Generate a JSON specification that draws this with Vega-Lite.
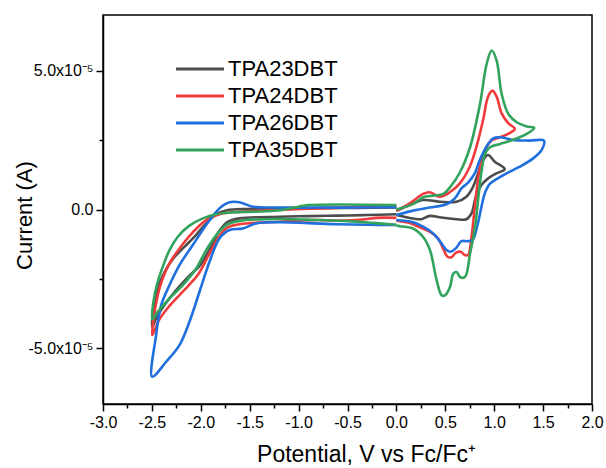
{
  "$schema": "https://vega.github.io/schema/vega-lite/v6.json",
  "width": 489,
  "height": 389,
  "autosize": {"type": "none"},
  "padding": {"left": 103, "top": 15, "right": 14, "bottom": 64},
  "background": "white",
  "config": {
    "view": {"stroke": "black", "strokeWidth": 1.5},
    "font": "Liberation Sans"
  },
  "data": {"values": [
    {"s":"TPA23DBT","g":"ox","k":1,"v":0.0,"i":-0.05e-5},
    {"s":"TPA23DBT","g":"ox","k":2,"v":0.136,"i":0.16e-5},
    {"s":"TPA23DBT","g":"ox","k":3,"v":0.273,"i":0.34e-5},
    {"s":"TPA23DBT","g":"ox","k":4,"v":0.443,"i":0.28e-5},
    {"s":"TPA23DBT","g":"ox","k":5,"v":0.614,"i":0.28e-5},
    {"s":"TPA23DBT","g":"ox","k":6,"v":0.716,"i":0.46e-5},
    {"s":"TPA23DBT","g":"ox","k":7,"v":0.784,"i":0.82e-5},
    {"s":"TPA23DBT","g":"ox","k":8,"v":0.835,"i":1.30e-5},
    {"s":"TPA23DBT","g":"ox","k":9,"v":0.887,"i":1.78e-5},
    {"s":"TPA23DBT","g":"ox","k":10,"v":0.938,"i":1.96e-5},
    {"s":"TPA23DBT","g":"ox","k":11,"v":1.006,"i":1.72e-5},
    {"s":"TPA23DBT","g":"ox","k":12,"v":1.108,"i":1.45e-5},
    {"s":"TPA23DBT","g":"ox","k":13,"v":1.023,"i":1.30e-5},
    {"s":"TPA23DBT","g":"ox","k":14,"v":0.938,"i":1.12e-5},
    {"s":"TPA23DBT","g":"ox","k":15,"v":0.870,"i":0.88e-5},
    {"s":"TPA23DBT","g":"ox","k":16,"v":0.812,"i":0.46e-5},
    {"s":"TPA23DBT","g":"ox","k":17,"v":0.768,"i":-0.14e-5},
    {"s":"TPA23DBT","g":"ox","k":18,"v":0.716,"i":-0.35e-5},
    {"s":"TPA23DBT","g":"ox","k":19,"v":0.614,"i":-0.35e-5},
    {"s":"TPA23DBT","g":"ox","k":20,"v":0.443,"i":-0.28e-5},
    {"s":"TPA23DBT","g":"ox","k":21,"v":0.341,"i":-0.23e-5},
    {"s":"TPA23DBT","g":"ox","k":22,"v":0.256,"i":-0.35e-5},
    {"s":"TPA23DBT","g":"ox","k":23,"v":0.102,"i":-0.28e-5},
    {"s":"TPA23DBT","g":"ox","k":24,"v":0.0,"i":-0.20e-5},
    {"s":"TPA23DBT","g":"rd","k":1,"v":0.0,"i":-0.17e-5},
    {"s":"TPA23DBT","g":"rd","k":2,"v":-0.3,"i":-0.20e-5},
    {"s":"TPA23DBT","g":"rd","k":3,"v":-0.6,"i":-0.22e-5},
    {"s":"TPA23DBT","g":"rd","k":4,"v":-0.9,"i":-0.24e-5},
    {"s":"TPA23DBT","g":"rd","k":5,"v":-1.194,"i":-0.26e-5},
    {"s":"TPA23DBT","g":"rd","k":6,"v":-1.604,"i":-0.32e-5},
    {"s":"TPA23DBT","g":"rd","k":7,"v":-1.733,"i":-0.46e-5},
    {"s":"TPA23DBT","g":"rd","k":8,"v":-1.816,"i":-0.80e-5},
    {"s":"TPA23DBT","g":"rd","k":9,"v":-1.904,"i":-1.40e-5},
    {"s":"TPA23DBT","g":"rd","k":10,"v":-2.006,"i":-2.00e-5},
    {"s":"TPA23DBT","g":"rd","k":11,"v":-2.116,"i":-2.38e-5},
    {"s":"TPA23DBT","g":"rd","k":12,"v":-2.252,"i":-2.90e-5},
    {"s":"TPA23DBT","g":"rd","k":13,"v":-2.372,"i":-3.44e-5},
    {"s":"TPA23DBT","g":"rd","k":14,"v":-2.457,"i":-3.92e-5},
    {"s":"TPA23DBT","g":"rd","k":15,"v":-2.497,"i":-4.22e-5},
    {"s":"TPA23DBT","g":"rd","k":16,"v":-2.484,"i":-3.56e-5},
    {"s":"TPA23DBT","g":"rd","k":17,"v":-2.440,"i":-2.84e-5},
    {"s":"TPA23DBT","g":"rd","k":18,"v":-2.372,"i":-2.26e-5},
    {"s":"TPA23DBT","g":"rd","k":19,"v":-2.286,"i":-1.78e-5},
    {"s":"TPA23DBT","g":"rd","k":20,"v":-2.184,"i":-1.40e-5},
    {"s":"TPA23DBT","g":"rd","k":21,"v":-2.064,"i":-0.98e-5},
    {"s":"TPA23DBT","g":"rd","k":22,"v":-1.945,"i":-0.50e-5},
    {"s":"TPA23DBT","g":"rd","k":23,"v":-1.842,"i":-0.17e-5},
    {"s":"TPA23DBT","g":"rd","k":24,"v":-1.733,"i":-0.03e-5},
    {"s":"TPA23DBT","g":"rd","k":25,"v":-1.535,"i":0.02e-5},
    {"s":"TPA23DBT","g":"rd","k":26,"v":-1.194,"i":0.02e-5},
    {"s":"TPA23DBT","g":"rd","k":27,"v":-0.8,"i":0.05e-5},
    {"s":"TPA23DBT","g":"rd","k":28,"v":-0.4,"i":0.06e-5},
    {"s":"TPA23DBT","g":"rd","k":29,"v":0.0,"i":0.07e-5},

    {"s":"TPA24DBT","g":"ox","k":1,"v":0.0,"i":-0.04e-5},
    {"s":"TPA24DBT","g":"ox","k":2,"v":0.136,"i":0.22e-5},
    {"s":"TPA24DBT","g":"ox","k":3,"v":0.273,"i":0.56e-5},
    {"s":"TPA24DBT","g":"ox","k":4,"v":0.341,"i":0.62e-5},
    {"s":"TPA24DBT","g":"ox","k":5,"v":0.443,"i":0.46e-5},
    {"s":"TPA24DBT","g":"ox","k":6,"v":0.546,"i":0.62e-5},
    {"s":"TPA24DBT","g":"ox","k":7,"v":0.648,"i":0.94e-5},
    {"s":"TPA24DBT","g":"ox","k":8,"v":0.750,"i":1.54e-5},
    {"s":"TPA24DBT","g":"ox","k":9,"v":0.819,"i":2.26e-5},
    {"s":"TPA24DBT","g":"ox","k":10,"v":0.887,"i":3.23e-5},
    {"s":"TPA24DBT","g":"ox","k":11,"v":0.938,"i":4.07e-5},
    {"s":"TPA24DBT","g":"ox","k":12,"v":0.982,"i":4.28e-5},
    {"s":"TPA24DBT","g":"ox","k":13,"v":1.024,"i":4.07e-5},
    {"s":"TPA24DBT","g":"ox","k":14,"v":1.075,"i":3.47e-5},
    {"s":"TPA24DBT","g":"ox","k":15,"v":1.143,"i":3.11e-5},
    {"s":"TPA24DBT","g":"ox","k":16,"v":1.211,"i":2.90e-5},
    {"s":"TPA24DBT","g":"ox","k":17,"v":1.143,"i":2.72e-5},
    {"s":"TPA24DBT","g":"ox","k":18,"v":1.057,"i":2.60e-5},
    {"s":"TPA24DBT","g":"ox","k":19,"v":0.972,"i":2.48e-5},
    {"s":"TPA24DBT","g":"ox","k":20,"v":0.914,"i":2.20e-5},
    {"s":"TPA24DBT","g":"ox","k":21,"v":0.863,"i":1.66e-5},
    {"s":"TPA24DBT","g":"ox","k":22,"v":0.825,"i":0.82e-5},
    {"s":"TPA24DBT","g":"ox","k":23,"v":0.795,"i":-0.14e-5},
    {"s":"TPA24DBT","g":"ox","k":24,"v":0.768,"i":-0.98e-5},
    {"s":"TPA24DBT","g":"ox","k":25,"v":0.733,"i":-1.64e-5},
    {"s":"TPA24DBT","g":"ox","k":26,"v":0.699,"i":-1.64e-5},
    {"s":"TPA24DBT","g":"ox","k":27,"v":0.658,"i":-1.52e-5},
    {"s":"TPA24DBT","g":"ox","k":28,"v":0.607,"i":-1.56e-5},
    {"s":"TPA24DBT","g":"ox","k":29,"v":0.563,"i":-1.72e-5},
    {"s":"TPA24DBT","g":"ox","k":30,"v":0.522,"i":-1.70e-5},
    {"s":"TPA24DBT","g":"ox","k":31,"v":0.477,"i":-1.40e-5},
    {"s":"TPA24DBT","g":"ox","k":32,"v":0.426,"i":-1.04e-5},
    {"s":"TPA24DBT","g":"ox","k":33,"v":0.341,"i":-0.80e-5},
    {"s":"TPA24DBT","g":"ox","k":34,"v":0.239,"i":-0.64e-5},
    {"s":"TPA24DBT","g":"ox","k":35,"v":0.119,"i":-0.47e-5},
    {"s":"TPA24DBT","g":"ox","k":36,"v":0.0,"i":-0.40e-5},
    {"s":"TPA24DBT","g":"rd","k":1,"v":0.0,"i":-0.30e-5},
    {"s":"TPA24DBT","g":"rd","k":2,"v":-0.2,"i":-0.30e-5},
    {"s":"TPA24DBT","g":"rd","k":3,"v":-0.35,"i":-0.36e-5},
    {"s":"TPA24DBT","g":"rd","k":4,"v":-0.55,"i":-0.40e-5},
    {"s":"TPA24DBT","g":"rd","k":5,"v":-0.8,"i":-0.38e-5},
    {"s":"TPA24DBT","g":"rd","k":6,"v":-1.0,"i":-0.40e-5},
    {"s":"TPA24DBT","g":"rd","k":7,"v":-1.194,"i":-0.44e-5},
    {"s":"TPA24DBT","g":"rd","k":8,"v":-1.604,"i":-0.53e-5},
    {"s":"TPA24DBT","g":"rd","k":9,"v":-1.733,"i":-0.66e-5},
    {"s":"TPA24DBT","g":"rd","k":10,"v":-1.826,"i":-1.04e-5},
    {"s":"TPA24DBT","g":"rd","k":11,"v":-1.928,"i":-1.70e-5},
    {"s":"TPA24DBT","g":"rd","k":12,"v":-2.020,"i":-2.30e-5},
    {"s":"TPA24DBT","g":"rd","k":13,"v":-2.116,"i":-2.70e-5},
    {"s":"TPA24DBT","g":"rd","k":14,"v":-2.218,"i":-3.08e-5},
    {"s":"TPA24DBT","g":"rd","k":15,"v":-2.320,"i":-3.47e-5},
    {"s":"TPA24DBT","g":"rd","k":16,"v":-2.423,"i":-3.95e-5},
    {"s":"TPA24DBT","g":"rd","k":17,"v":-2.497,"i":-4.52e-5},
    {"s":"TPA24DBT","g":"rd","k":18,"v":-2.477,"i":-3.80e-5},
    {"s":"TPA24DBT","g":"rd","k":19,"v":-2.440,"i":-3.08e-5},
    {"s":"TPA24DBT","g":"rd","k":20,"v":-2.389,"i":-2.48e-5},
    {"s":"TPA24DBT","g":"rd","k":21,"v":-2.320,"i":-1.94e-5},
    {"s":"TPA24DBT","g":"rd","k":22,"v":-2.218,"i":-1.40e-5},
    {"s":"TPA24DBT","g":"rd","k":23,"v":-2.082,"i":-0.82e-5},
    {"s":"TPA24DBT","g":"rd","k":24,"v":-1.945,"i":-0.38e-5},
    {"s":"TPA24DBT","g":"rd","k":25,"v":-1.809,"i":-0.17e-5},
    {"s":"TPA24DBT","g":"rd","k":26,"v":-1.604,"i":-0.08e-5},
    {"s":"TPA24DBT","g":"rd","k":27,"v":-1.194,"i":-0.02e-5},
    {"s":"TPA24DBT","g":"rd","k":28,"v":-0.8,"i":0.04e-5},
    {"s":"TPA24DBT","g":"rd","k":29,"v":-0.4,"i":0.08e-5},
    {"s":"TPA24DBT","g":"rd","k":30,"v":0.0,"i":0.10e-5},

    {"s":"TPA26DBT","g":"ox","k":1,"v":0.0,"i":-0.20e-5},
    {"s":"TPA26DBT","g":"ox","k":2,"v":0.170,"i":-0.04e-5},
    {"s":"TPA26DBT","g":"ox","k":3,"v":0.341,"i":0.07e-5},
    {"s":"TPA26DBT","g":"ox","k":4,"v":0.512,"i":0.19e-5},
    {"s":"TPA26DBT","g":"ox","k":5,"v":0.597,"i":0.40e-5},
    {"s":"TPA26DBT","g":"ox","k":6,"v":0.665,"i":0.76e-5},
    {"s":"TPA26DBT","g":"ox","k":7,"v":0.733,"i":0.97e-5},
    {"s":"TPA26DBT","g":"ox","k":8,"v":0.801,"i":1.30e-5},
    {"s":"TPA26DBT","g":"ox","k":9,"v":0.853,"i":1.78e-5},
    {"s":"TPA26DBT","g":"ox","k":10,"v":0.921,"i":2.26e-5},
    {"s":"TPA26DBT","g":"ox","k":11,"v":0.989,"i":2.56e-5},
    {"s":"TPA26DBT","g":"ox","k":12,"v":1.057,"i":2.60e-5},
    {"s":"TPA26DBT","g":"ox","k":13,"v":1.194,"i":2.50e-5},
    {"s":"TPA26DBT","g":"ox","k":14,"v":1.364,"i":2.48e-5},
    {"s":"TPA26DBT","g":"ox","k":15,"v":1.508,"i":2.48e-5},
    {"s":"TPA26DBT","g":"ox","k":16,"v":1.484,"i":2.14e-5},
    {"s":"TPA26DBT","g":"ox","k":17,"v":1.398,"i":1.84e-5},
    {"s":"TPA26DBT","g":"ox","k":18,"v":1.262,"i":1.54e-5},
    {"s":"TPA26DBT","g":"ox","k":19,"v":1.126,"i":1.30e-5},
    {"s":"TPA26DBT","g":"ox","k":20,"v":1.024,"i":1.09e-5},
    {"s":"TPA26DBT","g":"ox","k":21,"v":0.955,"i":0.92e-5},
    {"s":"TPA26DBT","g":"ox","k":22,"v":0.904,"i":0.58e-5},
    {"s":"TPA26DBT","g":"ox","k":23,"v":0.870,"i":0.10e-5},
    {"s":"TPA26DBT","g":"ox","k":24,"v":0.825,"i":-0.62e-5},
    {"s":"TPA26DBT","g":"ox","k":25,"v":0.778,"i":-1.10e-5},
    {"s":"TPA26DBT","g":"ox","k":26,"v":0.723,"i":-1.14e-5},
    {"s":"TPA26DBT","g":"ox","k":27,"v":0.665,"i":-1.14e-5},
    {"s":"TPA26DBT","g":"ox","k":28,"v":0.607,"i":-1.40e-5},
    {"s":"TPA26DBT","g":"ox","k":29,"v":0.553,"i":-1.52e-5},
    {"s":"TPA26DBT","g":"ox","k":30,"v":0.512,"i":-1.46e-5},
    {"s":"TPA26DBT","g":"ox","k":31,"v":0.461,"i":-1.22e-5},
    {"s":"TPA26DBT","g":"ox","k":32,"v":0.375,"i":-0.86e-5},
    {"s":"TPA26DBT","g":"ox","k":33,"v":0.273,"i":-0.62e-5},
    {"s":"TPA26DBT","g":"ox","k":34,"v":0.170,"i":-0.46e-5},
    {"s":"TPA26DBT","g":"ox","k":35,"v":0.0,"i":-0.38e-5},
    {"s":"TPA26DBT","g":"rd","k":1,"v":0.0,"i":-0.56e-5},
    {"s":"TPA26DBT","g":"rd","k":2,"v":-0.3,"i":-0.55e-5},
    {"s":"TPA26DBT","g":"rd","k":3,"v":-0.6,"i":-0.53e-5},
    {"s":"TPA26DBT","g":"rd","k":4,"v":-0.9,"i":-0.49e-5},
    {"s":"TPA26DBT","g":"rd","k":5,"v":-1.194,"i":-0.46e-5},
    {"s":"TPA26DBT","g":"rd","k":6,"v":-1.433,"i":-0.50e-5},
    {"s":"TPA26DBT","g":"rd","k":7,"v":-1.570,"i":-0.68e-5},
    {"s":"TPA26DBT","g":"rd","k":8,"v":-1.706,"i":-0.74e-5},
    {"s":"TPA26DBT","g":"rd","k":9,"v":-1.809,"i":-1.04e-5},
    {"s":"TPA26DBT","g":"rd","k":10,"v":-1.911,"i":-1.88e-5},
    {"s":"TPA26DBT","g":"rd","k":11,"v":-2.013,"i":-2.96e-5},
    {"s":"TPA26DBT","g":"rd","k":12,"v":-2.116,"i":-4.04e-5},
    {"s":"TPA26DBT","g":"rd","k":13,"v":-2.218,"i":-4.88e-5},
    {"s":"TPA26DBT","g":"rd","k":14,"v":-2.354,"i":-5.48e-5},
    {"s":"TPA26DBT","g":"rd","k":15,"v":-2.497,"i":-6.02e-5},
    {"s":"TPA26DBT","g":"rd","k":16,"v":-2.457,"i":-4.52e-5},
    {"s":"TPA26DBT","g":"rd","k":17,"v":-2.405,"i":-3.44e-5},
    {"s":"TPA26DBT","g":"rd","k":18,"v":-2.320,"i":-2.72e-5},
    {"s":"TPA26DBT","g":"rd","k":19,"v":-2.218,"i":-2.00e-5},
    {"s":"TPA26DBT","g":"rd","k":20,"v":-2.082,"i":-1.28e-5},
    {"s":"TPA26DBT","g":"rd","k":21,"v":-1.945,"i":-0.56e-5},
    {"s":"TPA26DBT","g":"rd","k":22,"v":-1.809,"i":0.04e-5},
    {"s":"TPA26DBT","g":"rd","k":23,"v":-1.706,"i":0.26e-5},
    {"s":"TPA26DBT","g":"rd","k":24,"v":-1.604,"i":0.26e-5},
    {"s":"TPA26DBT","g":"rd","k":25,"v":-1.468,"i":0.10e-5},
    {"s":"TPA26DBT","g":"rd","k":26,"v":-1.263,"i":0.07e-5},
    {"s":"TPA26DBT","g":"rd","k":27,"v":-0.8,"i":0.07e-5},
    {"s":"TPA26DBT","g":"rd","k":28,"v":-0.4,"i":0.07e-5},
    {"s":"TPA26DBT","g":"rd","k":29,"v":0.0,"i":0.08e-5},

    {"s":"TPA35DBT","g":"ox","k":1,"v":0.0,"i":0.0},
    {"s":"TPA35DBT","g":"ox","k":2,"v":0.173,"i":0.20e-5},
    {"s":"TPA35DBT","g":"ox","k":3,"v":0.275,"i":0.44e-5},
    {"s":"TPA35DBT","g":"ox","k":4,"v":0.377,"i":0.50e-5},
    {"s":"TPA35DBT","g":"ox","k":5,"v":0.480,"i":0.56e-5},
    {"s":"TPA35DBT","g":"ox","k":6,"v":0.548,"i":0.80e-5},
    {"s":"TPA35DBT","g":"ox","k":7,"v":0.650,"i":1.34e-5},
    {"s":"TPA35DBT","g":"ox","k":8,"v":0.753,"i":2.24e-5},
    {"s":"TPA35DBT","g":"ox","k":9,"v":0.855,"i":3.80e-5},
    {"s":"TPA35DBT","g":"ox","k":10,"v":0.923,"i":5.24e-5},
    {"s":"TPA35DBT","g":"ox","k":11,"v":0.974,"i":5.72e-5},
    {"s":"TPA35DBT","g":"ox","k":12,"v":1.025,"i":5.36e-5},
    {"s":"TPA35DBT","g":"ox","k":13,"v":1.076,"i":4.16e-5},
    {"s":"TPA35DBT","g":"ox","k":14,"v":1.144,"i":3.44e-5},
    {"s":"TPA35DBT","g":"ox","k":15,"v":1.230,"i":3.14e-5},
    {"s":"TPA35DBT","g":"ox","k":16,"v":1.332,"i":2.99e-5},
    {"s":"TPA35DBT","g":"ox","k":17,"v":1.410,"i":2.94e-5},
    {"s":"TPA35DBT","g":"ox","k":18,"v":1.332,"i":2.72e-5},
    {"s":"TPA35DBT","g":"ox","k":19,"v":1.196,"i":2.51e-5},
    {"s":"TPA35DBT","g":"ox","k":20,"v":1.059,"i":2.36e-5},
    {"s":"TPA35DBT","g":"ox","k":21,"v":0.957,"i":2.24e-5},
    {"s":"TPA35DBT","g":"ox","k":22,"v":0.906,"i":2.00e-5},
    {"s":"TPA35DBT","g":"ox","k":23,"v":0.872,"i":1.40e-5},
    {"s":"TPA35DBT","g":"ox","k":24,"v":0.838,"i":0.44e-5},
    {"s":"TPA35DBT","g":"ox","k":25,"v":0.804,"i":-0.64e-5},
    {"s":"TPA35DBT","g":"ox","k":26,"v":0.753,"i":-1.59e-5},
    {"s":"TPA35DBT","g":"ox","k":27,"v":0.701,"i":-2.43e-5},
    {"s":"TPA35DBT","g":"ox","k":28,"v":0.650,"i":-2.43e-5},
    {"s":"TPA35DBT","g":"ox","k":29,"v":0.616,"i":-2.25e-5},
    {"s":"TPA35DBT","g":"ox","k":30,"v":0.582,"i":-2.31e-5},
    {"s":"TPA35DBT","g":"ox","k":31,"v":0.548,"i":-2.79e-5},
    {"s":"TPA35DBT","g":"ox","k":32,"v":0.497,"i":-3.09e-5},
    {"s":"TPA35DBT","g":"ox","k":33,"v":0.463,"i":-3.09e-5},
    {"s":"TPA35DBT","g":"ox","k":34,"v":0.412,"i":-2.55e-5},
    {"s":"TPA35DBT","g":"ox","k":35,"v":0.344,"i":-1.47e-5},
    {"s":"TPA35DBT","g":"ox","k":36,"v":0.275,"i":-1.00e-5},
    {"s":"TPA35DBT","g":"ox","k":37,"v":0.173,"i":-0.69e-5},
    {"s":"TPA35DBT","g":"ox","k":38,"v":0.037,"i":-0.60e-5},
    {"s":"TPA35DBT","g":"ox","k":39,"v":0.0,"i":-0.58e-5},
    {"s":"TPA35DBT","g":"rd","k":1,"v":0.0,"i":-0.55e-5},
    {"s":"TPA35DBT","g":"rd","k":2,"v":-0.25,"i":-0.48e-5},
    {"s":"TPA35DBT","g":"rd","k":3,"v":-0.5,"i":-0.42e-5},
    {"s":"TPA35DBT","g":"rd","k":4,"v":-0.8,"i":-0.38e-5},
    {"s":"TPA35DBT","g":"rd","k":5,"v":-1.194,"i":-0.34e-5},
    {"s":"TPA35DBT","g":"rd","k":6,"v":-1.604,"i":-0.41e-5},
    {"s":"TPA35DBT","g":"rd","k":7,"v":-1.740,"i":-0.56e-5},
    {"s":"TPA35DBT","g":"rd","k":8,"v":-1.842,"i":-0.92e-5},
    {"s":"TPA35DBT","g":"rd","k":9,"v":-1.945,"i":-1.46e-5},
    {"s":"TPA35DBT","g":"rd","k":10,"v":-2.047,"i":-2.12e-5},
    {"s":"TPA35DBT","g":"rd","k":11,"v":-2.184,"i":-2.72e-5},
    {"s":"TPA35DBT","g":"rd","k":12,"v":-2.320,"i":-3.20e-5},
    {"s":"TPA35DBT","g":"rd","k":13,"v":-2.440,"i":-3.68e-5},
    {"s":"TPA35DBT","g":"rd","k":14,"v":-2.497,"i":-3.95e-5},
    {"s":"TPA35DBT","g":"rd","k":15,"v":-2.484,"i":-3.32e-5},
    {"s":"TPA35DBT","g":"rd","k":16,"v":-2.450,"i":-2.72e-5},
    {"s":"TPA35DBT","g":"rd","k":17,"v":-2.395,"i":-2.12e-5},
    {"s":"TPA35DBT","g":"rd","k":18,"v":-2.320,"i":-1.46e-5},
    {"s":"TPA35DBT","g":"rd","k":19,"v":-2.235,"i":-0.98e-5},
    {"s":"TPA35DBT","g":"rd","k":20,"v":-2.116,"i":-0.58e-5},
    {"s":"TPA35DBT","g":"rd","k":21,"v":-1.979,"i":-0.32e-5},
    {"s":"TPA35DBT","g":"rd","k":22,"v":-1.842,"i":-0.17e-5},
    {"s":"TPA35DBT","g":"rd","k":23,"v":-1.672,"i":-0.10e-5},
    {"s":"TPA35DBT","g":"rd","k":24,"v":-1.433,"i":-0.08e-5},
    {"s":"TPA35DBT","g":"rd","k":25,"v":-1.194,"i":-0.03e-5},
    {"s":"TPA35DBT","g":"rd","k":26,"v":-1.0,"i":0.10e-5},
    {"s":"TPA35DBT","g":"rd","k":27,"v":-0.9,"i":0.16e-5},
    {"s":"TPA35DBT","g":"rd","k":28,"v":0.0,"i":0.16e-5}
  ]},
  "mark": {"type": "line", "interpolate": "catmull-rom", "strokeWidth": 2.6, "clip": true},
  "encoding": {
    "x": {
      "field": "v", "type": "quantitative",
      "scale": {"domain": [-3, 2], "nice": false, "zero": false},
      "axis": {
        "title": "Potential, V vs Fc/Fc⁺",
        "values": [-3, -2.75, -2.5, -2.25, -2, -1.75, -1.5, -1.25, -1, -0.75, -0.5, -0.25, 0, 0.25, 0.5, 0.75, 1, 1.25, 1.5, 1.75, 2],
        "labelExpr": "abs(datum.value*2 - round(datum.value*2)) > 0.01 ? '' : (datum.value < -0.001 ? '-' : '') + format(abs(datum.value), '.1f')",
        "tickSize": {"condition": {"test": "abs(datum.value*2 - round(datum.value*2)) < 0.01", "value": 7}, "value": 4},
        "grid": false,
        "domainColor": "black", "domainWidth": 1.5,
        "tickColor": "black", "tickWidth": 1.5,
        "labelFont": "Liberation Sans", "labelFontSize": 16, "labelColor": "black", "labelPadding": 3,
        "labelFlush": false, "labelOverlap": false,
        "titleFont": "Liberation Sans", "titleFontSize": 23, "titleFontWeight": "normal", "titleColor": "black",
        "titleX": 263, "titleY": 57, "titleBaseline": "alphabetic", "titleAnchor": null
      }
    },
    "y": {
      "field": "i", "type": "quantitative",
      "scale": {"domain": [-7e-5, 7e-5], "nice": false, "zero": false},
      "axis": {
        "title": "Current (A)",
        "values": [-5e-5, -2.5e-5, 0, 2.5e-5, 5e-5],
        "labelExpr": "abs(datum.value) < 1e-9 ? '0.0' : (abs(abs(datum.value) - 5e-5) < 1e-9 ? ((datum.value < 0 ? '-' : '') + '5.0x10⁻⁵') : '')",
        "tickSize": {"condition": {"test": "abs(datum.value) < 1e-9 || abs(abs(datum.value) - 5e-5) < 1e-9", "value": 7}, "value": 4},
        "grid": false,
        "domainColor": "black", "domainWidth": 1.5,
        "tickColor": "black", "tickWidth": 1.5,
        "labelFont": "Liberation Sans", "labelFontSize": 16, "labelColor": "black", "labelPadding": 3,
        "labelFlush": false, "labelOverlap": false,
        "titleFont": "Liberation Sans", "titleFontSize": 22, "titleFontWeight": "normal", "titleColor": "black",
        "titleX": -72, "titleY": 200, "titleBaseline": "alphabetic", "titleAngle": -90, "titleAlign": "center"
      }
    },
    "color": {
      "field": "s", "type": "nominal",
      "scale": {"domain": ["TPA23DBT", "TPA24DBT", "TPA26DBT", "TPA35DBT"], "range": ["#4d4d4d", "#ef3b3b", "#1f6fde", "#32a35d"]},
      "legend": {
        "title": null, "orient": "none", "legendX": 86, "legendY": 43,
        "symbolType": "M-3,0H3", "symbolSize": 256, "symbolStrokeWidth": 3,
        "labelFont": "Liberation Sans", "labelFontSize": 22, "labelColor": "black",
        "labelOffset": 17, "rowPadding": 5, "padding": 0
      }
    },
    "detail": {"field": "g"},
    "order": {"field": "k", "type": "quantitative"}
  }
}
